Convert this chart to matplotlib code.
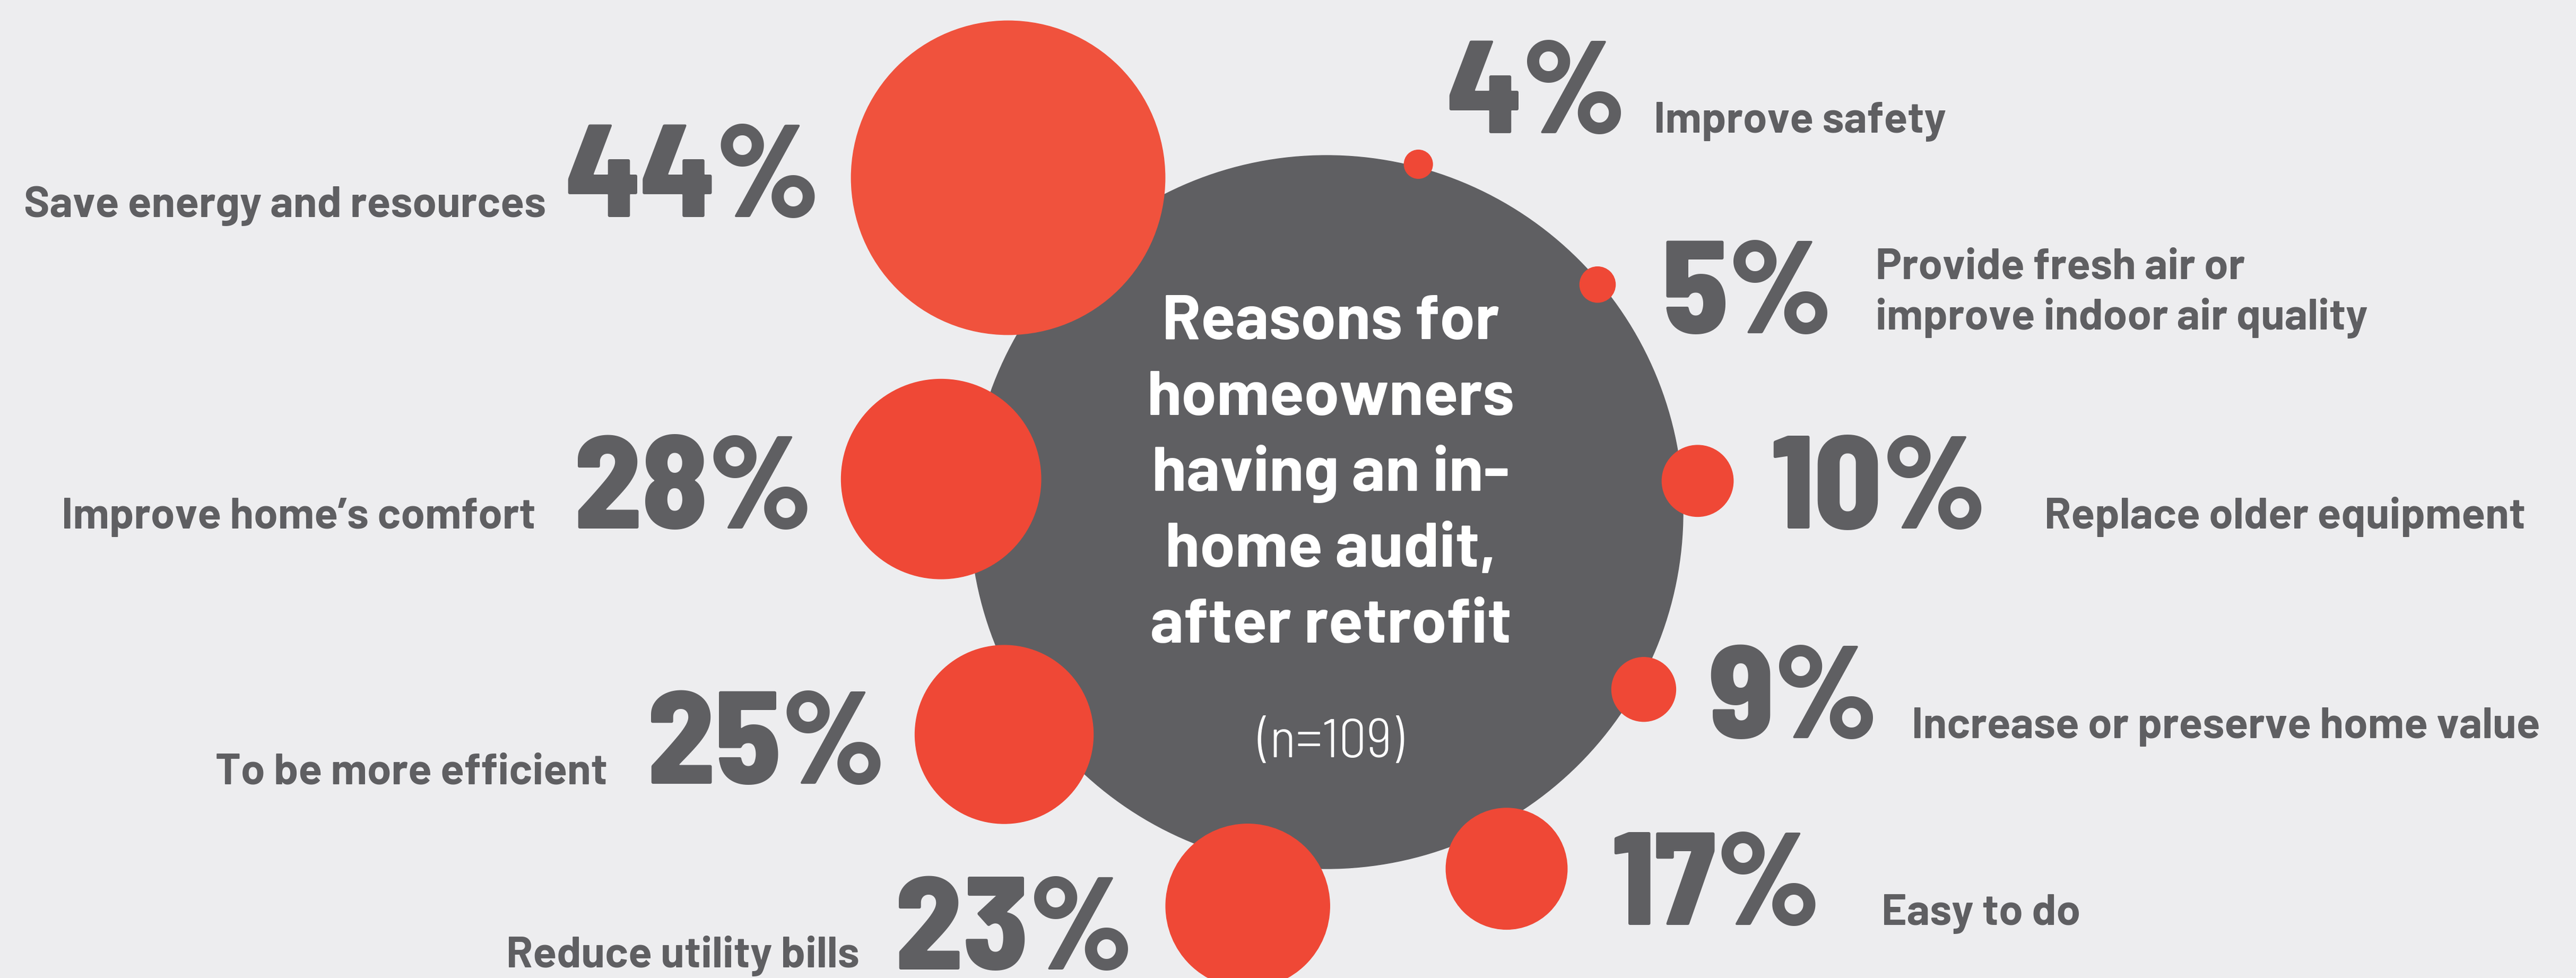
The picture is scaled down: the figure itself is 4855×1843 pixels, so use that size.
import numpy as np
import matplotlib
matplotlib.use("Agg")
import matplotlib.pyplot as plt
from matplotlib.patches import Circle

# survey answers (share of homeowners, %)
reasons = ["Save energy and resources", "Improve home\u2019s comfort", "To be more efficient",
           "Reduce utility bills", "Easy to do", "Increase or preserve home value",
           "Replace older equipment", "Provide fresh air or\nimprove indoor air quality",
           "Improve safety"]
values = [44, 28, 25, 23, 17, 9, 10, 5, 4]
title = "Reasons for\nhomeowners\nhaving an in-\nhome audit,\nafter retrofit"
sample_note = "(n=109)"

# layout: bubble angle (deg) / distance from hub, text anchors in px
angles = [133.6, 175.1, 214.6, 258.7, 296.8, 330.8, 4.8, 40.0, 75.2]
dists = [870, 729, 738, 757, 753, 685, 702, 667, 678]
side = ["L", "L", "L", "L", "R", "R", "R", "R", "R"]
num_x = [1546, 1531, 1669, 2136, 3037, 3220, 3337, 3133, 2726]
num_y = [409, 996, 1477, 1827, 1743, 1391, 996, 628, 251]
lab_x = [1029, 1010, 1145, 1620, 3546, 3603, 3853, 3535, 3117]
lab_y = [409, 996, 1477, 1823, 1743, 1391, 996, 621, 250]

W, H = 4855, 1843
hub_x, hub_y, hub_r = 2500, 965, 672
px_per_pct = 6.72

bg = "#EDEDEF"
grey = "#5F5F62"
reds = ["#F0523D"] + ["#EF4836"] * 8
font = ["Barlow", "Roboto Condensed", "DejaVu Sans"]
num_font = ["Barlow Semi Condensed", "Barlow", "DejaVu Sans"]

fig = plt.figure(figsize=(W / 100, H / 100), dpi=100, facecolor=bg)
ax = fig.add_axes([0, 0, 1, 1])
ax.set_xlim(0, W)
ax.set_ylim(H, 0)
ax.set_aspect("equal")
ax.axis("off")
ax.set_facecolor(bg)

ax.add_patch(Circle((hub_x, hub_y), hub_r, color=grey, zorder=1))

for v, a, d, c in zip(values, angles, dists, reds):
    t = np.radians(a)
    cx = hub_x + d * np.cos(t)
    cy = hub_y - d * np.sin(t)
    ax.add_patch(Circle((cx, cy), v * px_per_pct, color=c, zorder=2))

for i, (lab, v) in enumerate(zip(reasons, values)):
    ha = "right" if side[i] == "L" else "left"
    ax.text(num_x[i], num_y[i], f"{v}%", ha=ha, va="baseline", fontsize=180,
            fontweight=800, color=grey, family=num_font, zorder=3)
    lines = lab.split("\n")
    for j, ln in enumerate(lines):
        y = lab_y[i] - (len(lines) - 1 - j) * 95
        ax.text(lab_x[i], y, ln, ha=ha, va="baseline", fontsize=59,
                fontweight="bold", color=grey, family=font, zorder=3)

for j, ln in enumerate(title.split("\n")):
    ax.text(hub_x + 8, 639 + j * 143, ln, ha="center", va="baseline", fontsize=86,
            fontweight="bold", color="white", family=font, zorder=3)

ax.text(hub_x + 8, 1427, sample_note, ha="center", va="baseline", fontsize=75,
        fontweight=300, color="white", family=num_font, zorder=3)

fig.savefig("out.png", dpi=100, facecolor=bg)
